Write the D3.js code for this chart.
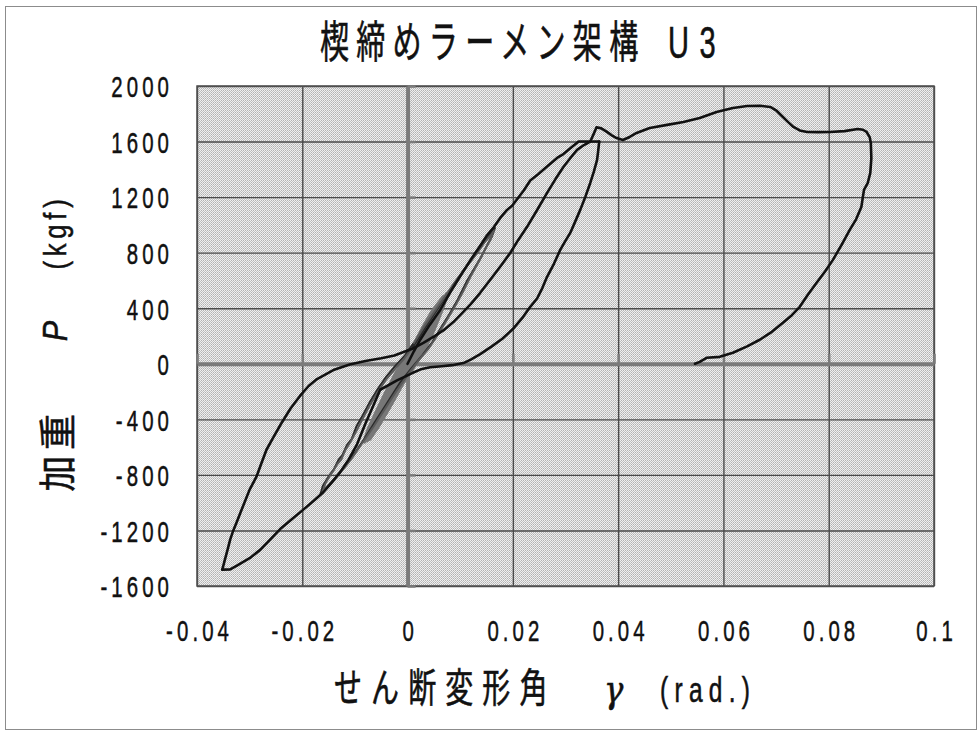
<!DOCTYPE html>
<html><head><meta charset="utf-8">
<script src="https://cdn.jsdelivr.net/npm/d3@7"></script>
<style>
html,body{margin:0;padding:0;background:#fff;}
svg{display:block;}
</style></head><body>
<svg id="chart" width="980" height="731"></svg>
<script>
// ---- labels ----
const chartTitle = "楔締めラーメン架構";
const chartTitleTag = "U3";
const xTitleMain = "せん断変形角";
const xTitleSymbol = "γ";
const xTitleUnit = "(rad.)";
const yTitleMain = "加重";
const yTitleSymbol = "P";
const yTitleUnit = "(kgf)";

// ---- axes ----
const xDomain = [-0.04, 0.1];
const yDomain = [-1600, 2000];
const xTicks = [-0.04, -0.02, 0, 0.02, 0.04, 0.06, 0.08, 0.1];
const yTicks = [-1600, -1200, -800, -400, 0, 400, 800, 1200, 1600, 2000];
const xTickLabels = ["-0.04", "-0.02", "0", "0.02", "0.04", "0.06", "0.08", "0.1"];

// ---- measured load–deformation records [shear angle γ (rad), load P (kgf)] ----
// small cycles around the origin
const smallCycle1 = [[0,0],[0.0012,90],[0.0025,180],[0.0032,230],[0.0026,170],[0.0014,70],[0.0002,-10],[-0.0012,-100],[-0.0026,-190],[-0.0034,-240],[-0.0027,-170],[-0.0014,-70],[-0.0002,10],[0.0012,110],[0.0030,220]];
const smallCycle2 = [[0.0030,220],[0.0045,320],[0.0058,400],[0.0050,320],[0.0036,200],[0.0020,80],[0.0004,-20],[-0.0015,-130],[-0.0035,-270],[-0.0055,-400],[-0.0066,-470],[-0.0056,-380],[-0.0040,-240],[-0.0024,-110],[-0.0008,0],[0.0010,90],[0.0030,230],[0.0048,350],[0.0062,420]];
const smallCycle3 = [[0.0062,420],[0.0054,330],[0.0040,200],[0.0022,60],[0.0006,-40],[-0.0014,-170],[-0.0036,-320],[-0.0058,-460],[-0.0077,-550],[-0.0068,-450],[-0.0050,-300],[-0.0032,-150],[-0.0015,-30],[0.0002,60],[0.0020,170],[0.0040,300],[0.0060,430],[0.0075,500]];
const smallCycle4 = [[0.0075,500],[0.0066,400],[0.0050,250],[0.0030,90],[0.0010,-30],[-0.0010,-140],[-0.0032,-290],[-0.0055,-440],[-0.0072,-540],[-0.0063,-430],[-0.0045,-280],[-0.0025,-120],[-0.0008,10],[0.0010,120]];
const smallCycle5 = [[0.0010,120],[0.0028,250],[0.0046,370],[0.0068,480],[0.0060,390],[0.0044,260],[0.0026,120],[0.0008,10],[-0.0012,-110],[-0.0034,-260],[-0.0060,-430],[-0.0082,-560],[-0.0074,-470],[-0.0058,-340],[-0.0040,-200],[-0.0022,-70],[-0.0004,40],[0.0014,150]];
// ±0.016 rad cycles
const midCycle1 = [[0.0010,120],[0.0030,240],[0.0048,345],[0.0070,470],[0.0092,590],[0.0108,680],[0.0122,750],[0.0134,815],[0.0145,870],[0.0157,930],[0.0166,978],[0.0160,915],[0.0152,860],[0.0140,770],[0.0126,680],[0.0112,590],[0.0095,460],[0.0080,360],[0.0062,250],[0.0046,150],[0.0028,60],[0.0008,-30],[-0.0015,-140],[-0.0040,-290],[-0.0062,-420],[-0.0082,-540],[-0.0098,-630],[-0.0115,-710],[-0.0128,-780],[-0.0142,-840],[-0.0155,-895],[-0.0166,-945],[-0.0161,-880],[-0.0153,-830],[-0.0146,-790],[-0.0140,-760],[-0.0131,-690],[-0.0124,-660],[-0.0115,-585],[-0.0106,-540],[-0.0097,-450],[-0.0085,-370],[-0.0073,-285],[-0.0058,-190],[-0.0040,-90],[-0.0022,-10],[-0.0005,60],[0.0012,150]];
const midCycle2 = [[0.0012,150],[0.0030,260],[0.0050,370],[0.0072,490],[0.0090,590],[0.0106,670],[0.0120,740],[0.0133,800],[0.0146,875],[0.0158,925],[0.0164,960],[0.0157,890],[0.0148,830],[0.0136,740],[0.0120,630],[0.0104,510],[0.0088,400],[0.0072,300],[0.0056,200],[0.0040,110],[0.0022,30],[0.0004,-60],[-0.0020,-190],[-0.0044,-330],[-0.0066,-460],[-0.0086,-570],[-0.0104,-670],[-0.0120,-750],[-0.0136,-820],[-0.0150,-880],[-0.0162,-930],[-0.0156,-860],[-0.0149,-815],[-0.0141,-770],[-0.0133,-720],[-0.0126,-690],[-0.0118,-620],[-0.0108,-560],[-0.0098,-490],[-0.0086,-400],[-0.0072,-300],[-0.0056,-200],[-0.0040,-110],[-0.0022,-30],[-0.0006,40],[0.0008,110]];
// loading to 1600 kgf and unloading
const firstLoading = [[0,0],[0.0012,90],[0.0024,173],[0.0042,280],[0.0062,388],[0.0082,520],[0.0100,630],[0.0120,750],[0.0138,850],[0.0151,925],[0.0164,985],[0.0176,1050],[0.0189,1108],[0.0199,1140],[0.0208,1185],[0.0221,1250],[0.0233,1320],[0.0248,1365],[0.0265,1420],[0.0284,1482],[0.0296,1510],[0.0312,1560],[0.0325,1600],[0.0345,1600],[0.0364,1600]];
const firstUnloading = [[0.0364,1600],[0.0362,1530],[0.0360,1468],[0.0354,1385],[0.0347,1302],[0.0338,1205],[0.0328,1108],[0.0318,1020],[0.0309,942],[0.0299,880],[0.0290,820],[0.0278,720],[0.0265,626],[0.0256,545],[0.0246,470],[0.0233,410],[0.0218,330],[0.0200,250],[0.0180,180],[0.0160,125],[0.0138,70],[0.0120,30],[0.0106,5],[0.0085,-10],[0.0065,-18],[0.0043,-25],[0.0025,-40],[0.0010,-65],[-0.0020,-120],[-0.0052,-187]];
// negative excursion
const negativeLoading = [[-0.0052,-187],[-0.0065,-300],[-0.0080,-430],[-0.0096,-580],[-0.0112,-690],[-0.0128,-780],[-0.0145,-860],[-0.0160,-925],[-0.0175,-975],[-0.0198,-1050],[-0.0220,-1120],[-0.0242,-1190],[-0.0262,-1270],[-0.0280,-1340],[-0.0300,-1400],[-0.0325,-1455],[-0.0337,-1480],[-0.0352,-1482]];
const negativeUnloading = [[-0.0352,-1482],[-0.0349,-1440],[-0.0347,-1410],[-0.0342,-1340],[-0.0337,-1266],[-0.0331,-1200],[-0.0325,-1144],[-0.0313,-1029],[-0.0300,-906],[-0.0287,-813],[-0.0278,-720],[-0.0268,-619],[-0.0255,-530],[-0.0240,-430],[-0.0222,-320],[-0.0204,-230],[-0.0188,-160],[-0.0172,-110],[-0.0141,-45],[-0.0110,-5],[-0.0080,20],[-0.0050,40],[-0.0025,60],[0,95]];
// final loading to large deformation and unloading
const finalLoading = [[0,95],[0.0010,110],[0.0030,150],[0.0049,194],[0.0068,240],[0.0087,300],[0.0105,370],[0.0120,430],[0.0138,511],[0.0160,620],[0.0178,710],[0.0195,798],[0.0210,890],[0.0227,986],[0.0245,1100],[0.0265,1230],[0.0281,1330],[0.0296,1417],[0.0310,1485],[0.0322,1540],[0.0335,1575],[0.0347,1600],[0.0353,1650],[0.0359,1703],[0.0368,1695],[0.0378,1671],[0.0388,1645],[0.0397,1625],[0.0409,1611],[0.0422,1633],[0.0435,1662],[0.0460,1698],[0.0493,1720],[0.0524,1741],[0.0555,1770],[0.0587,1813],[0.0618,1842],[0.0645,1856],[0.0670,1858],[0.0689,1849],[0.0700,1825],[0.0713,1777],[0.0723,1740],[0.0733,1705],[0.0745,1680],[0.0759,1669],[0.0780,1668],[0.0802,1669],[0.0830,1675],[0.0855,1690],[0.0865,1685],[0.0872,1669],[0.0878,1630],[0.0880,1590],[0.0881,1480],[0.0879,1374],[0.0874,1300],[0.0867,1252],[0.0862,1129],[0.0852,1040],[0.0840,964],[0.0825,860],[0.0808,748],[0.0793,665],[0.0777,583],[0.0760,495],[0.0745,410],[0.0730,350],[0.0713,295],[0.0692,230],[0.0669,173],[0.0645,125],[0.0618,79],[0.0593,50],[0.0568,43],[0.0555,14],[0.0546,0]];

const smallCycles = [smallCycle1, smallCycle2, smallCycle3, smallCycle4, smallCycle5];
const midCycles = [midCycle1, midCycle2];
const mainCurves = [firstLoading, firstUnloading, negativeLoading, negativeUnloading, finalLoading];

// ---- drawing ----
const svg = d3.select("#chart");
const plot = {left: 197, right: 934, top: 86, bottom: 586};
const x = d3.scaleLinear().domain(xDomain).range([plot.left, plot.right]);
const y = d3.scaleLinear().domain(yDomain).range([plot.bottom, plot.top]);

// outer frame
svg.append("rect").attr("x", 5.5).attr("y", 6.5).attr("width", 971).attr("height", 723)
  .attr("fill", "#fff").attr("stroke", "#8c8c8c").attr("stroke-width", 1);

// halftone plot fill
const defs = svg.append("defs");
const pat = defs.append("pattern").attr("id", "halftone").attr("patternUnits", "userSpaceOnUse")
  .attr("x", plot.left).attr("y", plot.top).attr("width", 2).attr("height", 2);
pat.append("rect").attr("width", 2).attr("height", 2).attr("fill", "#efefef");
pat.append("rect").attr("x", 0).attr("y", 0).attr("width", 1).attr("height", 1).attr("fill", "#b2b2b2");
pat.append("rect").attr("x", 1).attr("y", 1).attr("width", 1).attr("height", 1).attr("fill", "#c2c2c2");

svg.append("rect").attr("x", plot.left).attr("y", plot.top)
  .attr("width", plot.right - plot.left).attr("height", plot.bottom - plot.top)
  .attr("fill", "url(#halftone)").attr("shape-rendering", "crispEdges");

// gridlines
const gridY = svg.append("g").attr("transform", `translate(${plot.left},0)`)
  .call(d3.axisLeft(y).tickValues(yTicks).tickSize(-(plot.right - plot.left)).tickFormat(""));
const gridX = svg.append("g").attr("transform", `translate(0,${plot.bottom})`)
  .call(d3.axisBottom(x).tickValues(xTicks).tickSize(-(plot.bottom - plot.top)).tickFormat(""));
[gridY, gridX].forEach(g => {
  g.select(".domain").remove();
  g.selectAll(".tick line").attr("stroke", "#4a4a4a").attr("stroke-width", 1.4);
});

// plot border
svg.append("rect").attr("x", plot.left).attr("y", plot.top)
  .attr("width", plot.right - plot.left).attr("height", plot.bottom - plot.top)
  .attr("fill", "none").attr("stroke", "#505050").attr("stroke-width", 1.5);

// zero axes with short tick marks
const axisColor = "#7b7b7b";
const yZero = svg.append("g").attr("transform", `translate(${x(0)},0)`)
  .call(d3.axisRight(y).tickValues(yTicks).tickSize(8).tickSizeOuter(0).tickFormat(""));
const xZero = svg.append("g").attr("transform", `translate(0,${y(0)})`)
  .call(d3.axisTop(x).tickValues(xTicks).tickSize(10).tickSizeOuter(0).tickFormat(""));
[yZero, xZero].forEach(g => {
  g.select(".domain").attr("stroke", axisColor).attr("stroke-width", 4);
  g.selectAll(".tick line").attr("stroke", axisColor).attr("stroke-width", 2.5);
});

// curves
const line = d3.line().x(d => x(d[0])).y(d => y(d[1])).curve(d3.curveLinear);
const curves = svg.append("g").attr("fill", "none").attr("stroke-linejoin", "round").attr("stroke-linecap", "round");
curves.selectAll("path.small").data(smallCycles).join("path").attr("class", "small")
  .attr("d", line).attr("stroke", "#777").attr("stroke-width", 4);
curves.selectAll("path.mid").data(midCycles).join("path").attr("class", "mid")
  .attr("d", line).attr("stroke", (d, i) => i ? "#5a5a5a" : "#2a2a2a").attr("stroke-width", 2);
curves.selectAll("path.main").data(mainCurves).join("path").attr("class", "main")
  .attr("d", line).attr("stroke", "#111").attr("stroke-width", 2.6);

// ---- text ----
const numFont = "'Liberation Sans', Arial, sans-serif";
const cjkFont = "'Noto Sans CJK JP', 'Noto Sans', sans-serif";
const sx = 0.68;

// y tick labels
const yLab = svg.append("g").attr("transform", `translate(${plot.left - 30},0)`)
  .call(d3.axisLeft(y).tickValues(yTicks).tickSize(0).tickFormat(d => String(d)));
yLab.select(".domain").remove();
yLab.selectAll(".tick text")
  .attr("x", 6 / sx).attr("dy", "0.36em")
  .attr("transform", `scale(${sx},1)`)
  .style("font-family", numFont).style("font-size", "30px").style("letter-spacing", "6px")
  .attr("fill", "#111").attr("stroke", "#111").attr("stroke-width", 0.5);

// x tick labels
const xLab = svg.append("g").attr("transform", `translate(0,${plot.bottom + 44})`)
  .call(d3.axisBottom(x).tickValues(xTicks).tickSize(0).tickFormat((d, i) => xTickLabels[i]));
xLab.select(".domain").remove();
xLab.selectAll(".tick text")
  .attr("y", 0).attr("dy", "0.36em").attr("x", 3)
  .attr("transform", `scale(${sx},1)`)
  .style("font-family", numFont).style("font-size", "30px").style("letter-spacing", "6px")
  .attr("fill", "#111").attr("stroke", "#111").attr("stroke-width", 0.5);

function squeezed(txt, px, py, size, family, scale, spacing, italic) {
  return svg.append("text")
    .attr("transform", `translate(${px},${py}) scale(${scale},1)`)
    .style("font-family", family).style("font-size", size + "px")
    .style("letter-spacing", spacing + "px")
    .style("font-style", italic ? "italic" : "normal")
    .attr("fill", "#111").attr("stroke", "#111").attr("stroke-width", 0.6)
    .text(txt);
}

// title
squeezed(chartTitle, 320, 58, 44, cjkFont, 0.66, 11);
squeezed(chartTitleTag, 668, 58, 44, numFont, 0.66, 16);

// x axis title
squeezed(xTitleMain, 334, 702, 40, cjkFont, 0.7, 13);
squeezed(xTitleSymbol, 604, 702, 38, "'DejaVu Serif', serif", 0.85, 0, true);
squeezed(xTitleUnit, 660, 702, 35, numFont, 0.7, 9);

// y axis title (rotated, reading upwards)
function rotated(txt, cx, cy, size, family, scale, spacing, italic) {
  svg.append("text")
    .attr("transform", `translate(${cx},${cy}) rotate(-90) scale(${scale},1)`)
    .attr("text-anchor", "middle").attr("dominant-baseline", "central")
    .style("font-family", family).style("font-size", size + "px")
    .style("letter-spacing", spacing + "px")
    .style("font-style", italic ? "italic" : "normal")
    .attr("fill", "#111").attr("stroke", "#111").attr("stroke-width", 0.5)
    .text(txt);
}
rotated(yTitleMain, 55, 450, 38, cjkFont, 0.95, 6, false);
rotated(yTitleSymbol, 55, 331, 36, numFont, 0.85, 0, true);
rotated(yTitleUnit, 55, 232, 32, numFont, 0.8, 6, false);
</script>
</body></html>
